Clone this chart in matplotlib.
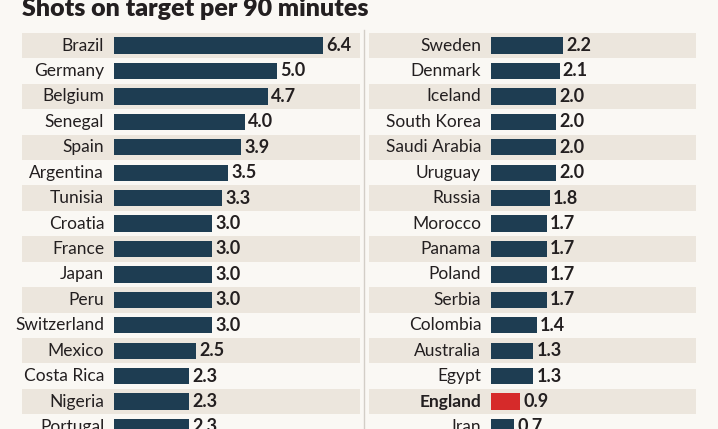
import matplotlib.pyplot as plt

left_names = ["Brazil", "Germany", "Belgium", "Senegal", "Spain", "Argentina", "Tunisia",
              "Croatia", "France", "Japan", "Peru", "Switzerland", "Mexico", "Costa Rica",
              "Nigeria", "Portugal"]
left_vals = [6.4, 5.0, 4.7, 4.0, 3.9, 3.5, 3.3, 3.0, 3.0, 3.0, 3.0, 3.0, 2.5, 2.3, 2.3, 2.3]

right_names = ["Sweden", "Denmark", "Iceland", "South Korea", "Saudi Arabia", "Uruguay",
               "Russia", "Morocco", "Panama", "Poland", "Serbia", "Colombia", "Australia",
               "Egypt", "England", "Iran"]
right_vals = [2.2, 2.1, 2.0, 2.0, 2.0, 2.0, 1.8, 1.7, 1.7, 1.7, 1.7, 1.4, 1.3, 1.3, 0.9, 0.7]

highlight = "England"

W, H = 718, 429
BG = "#faf8f4"
STRIPE = "#ece6dd"
NAVY = "#1e3d52"
RED = "#d62a2a"
TXT = "#231f20"
SCALE = 32.66      # px per unit
PITCH = 25.43      # px per row
TOP = 32.8         # px, top of first row

plt.rcParams['font.family'] = ['Lato', 'DejaVu Sans']

fig = plt.figure(figsize=(W / 100, H / 100), dpi=100, facecolor=BG)


def panel(x0, x1, zero, names, vals):
    ax = fig.add_axes([x0 / W, 0, (x1 - x0) / W, (H - TOP) / H])
    ax.set_facecolor(BG)
    ax.set_xlim(-(zero - x0) / SCALE, (x1 - zero) / SCALE)
    ax.set_ylim(-0.5 + (H - TOP) / PITCH, -0.5)
    ax.axis("off")
    for i in range(0, len(names), 2):
        ax.axhspan(i - 0.5, i + 0.5, color=STRIPE, zorder=0, lw=0)
    pos = list(range(len(names)))
    cols = [RED if n == highlight else NAVY for n in names]
    ax.barh(pos, vals, height=0.64, color=cols, zorder=2)
    for i, (n, v) in enumerate(zip(names, vals)):
        ax.text(-0.3, i, n, ha="right", va="center", fontsize=12.5, color=TXT,
                fontweight="bold" if n == highlight else "normal")
        ax.text(v + 0.1, i, f"{v:.1f}", ha="left", va="center", fontsize=13,
                color=TXT, fontweight="bold")
    return ax


panel(22, 360, 114, left_names, left_vals)
panel(369, 696, 491, right_names, right_vals)

# divider between the panels
fig.add_artist(plt.Line2D([363.5 / W, 363.5 / W], [0, 1 - 30 / H],
                          color="#d3cec7", lw=1))

fig.text(22 / W, 1 - 15.5 / H, "Shots on target per 90 minutes", ha="left",
         va="baseline", fontsize=18, fontweight="heavy", color=TXT)

fig.savefig("out.png", dpi=100, facecolor=BG)
